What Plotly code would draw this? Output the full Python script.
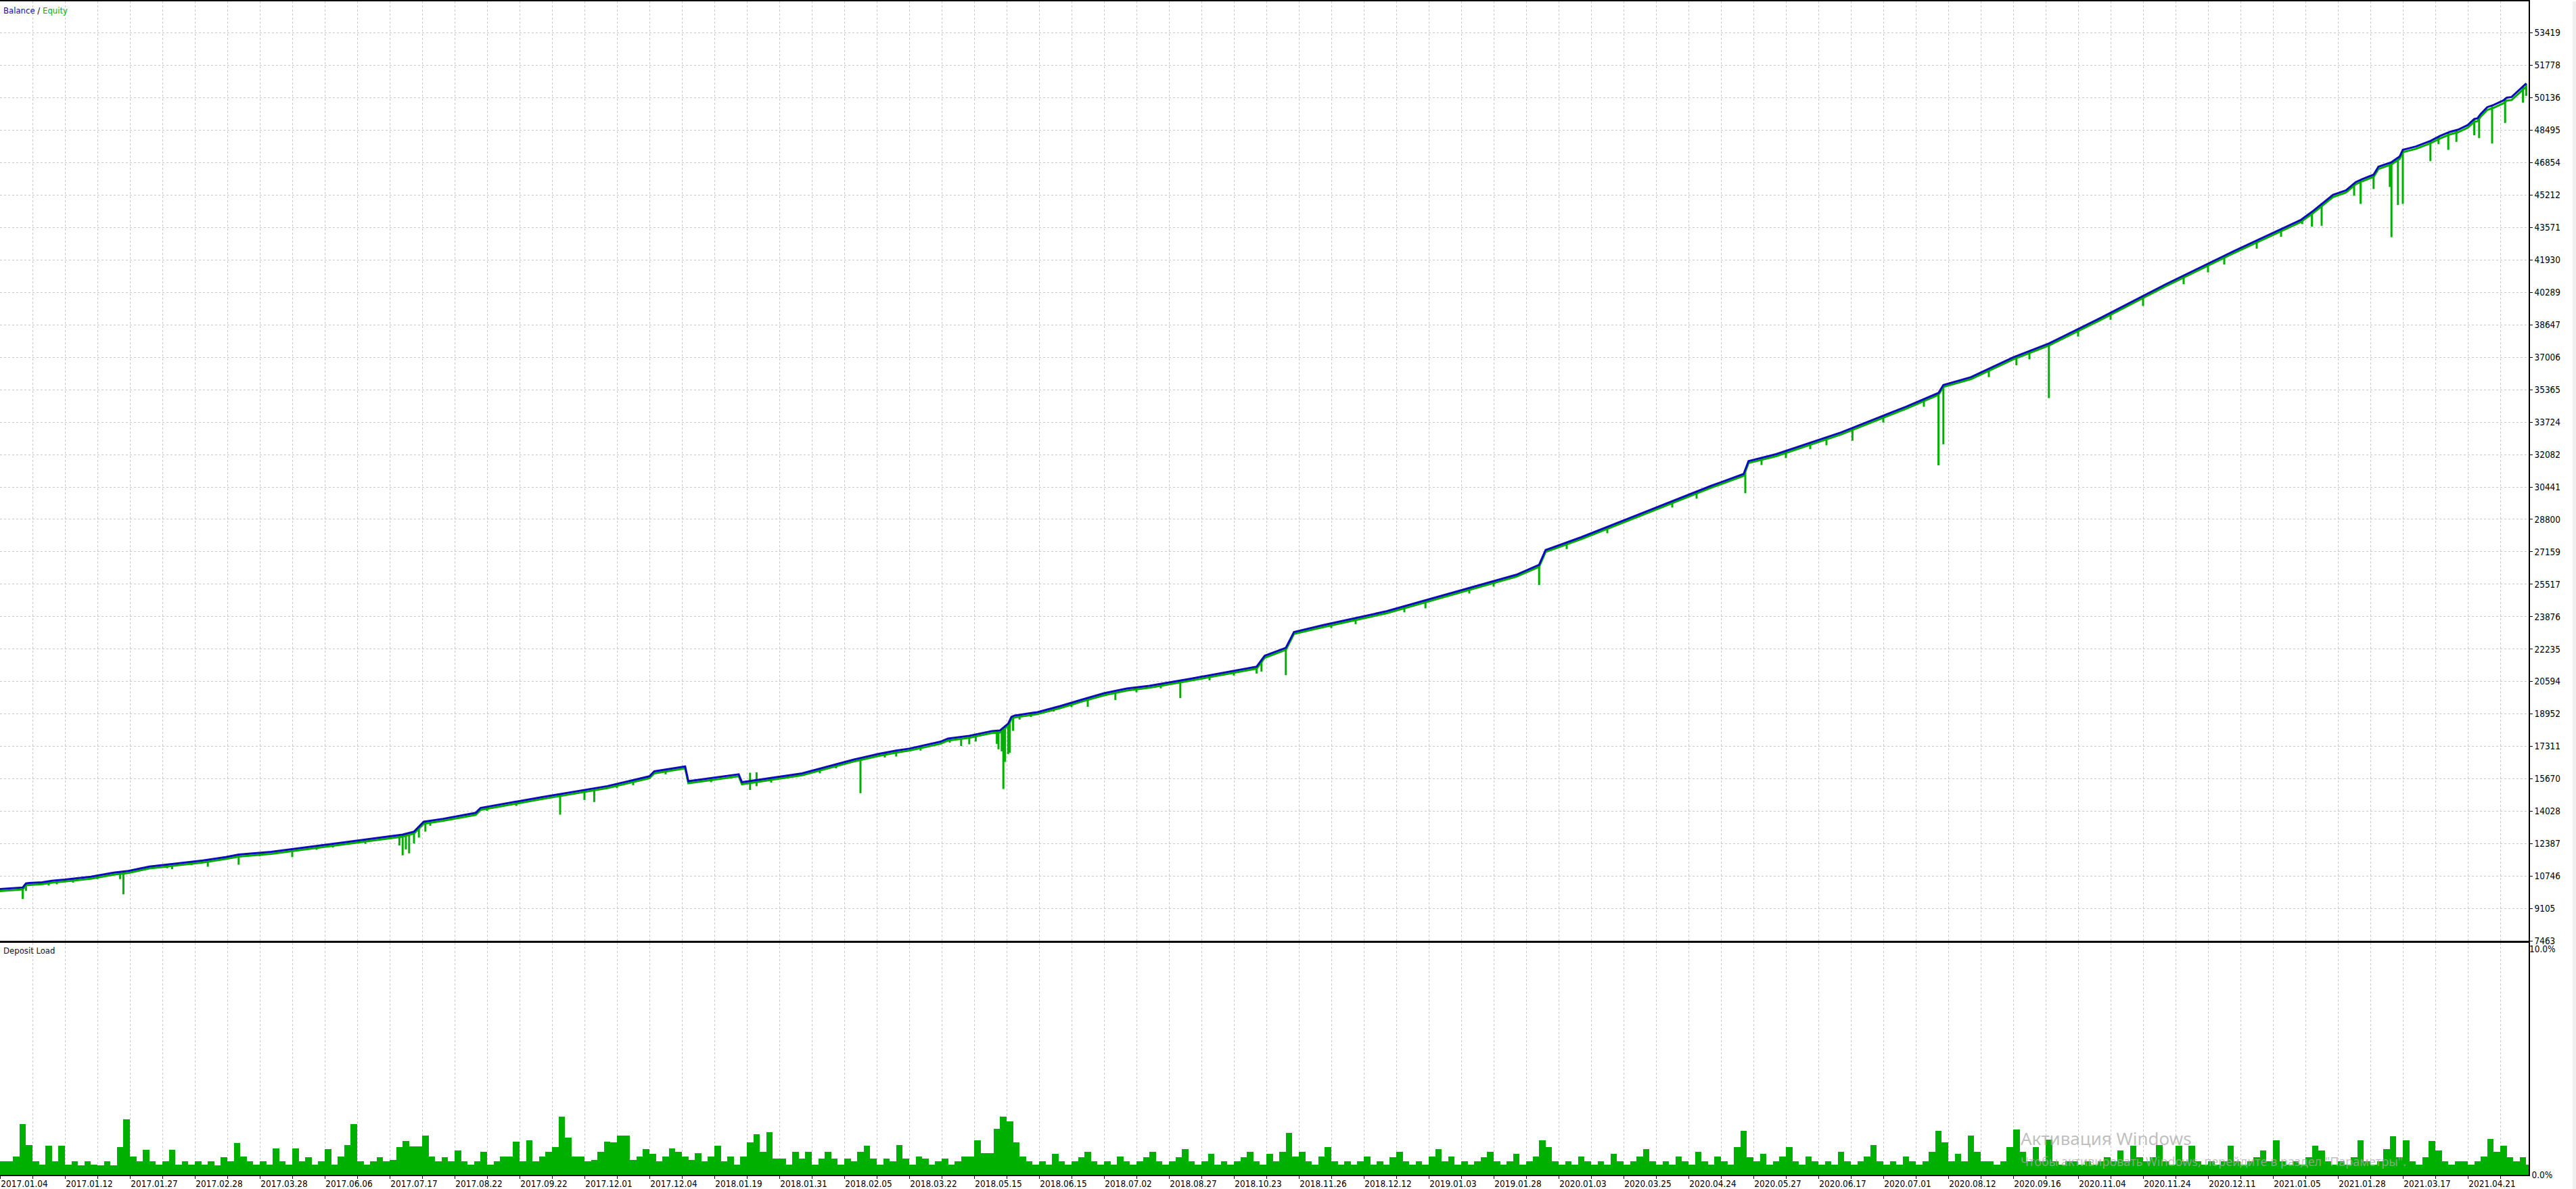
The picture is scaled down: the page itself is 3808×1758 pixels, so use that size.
import plotly.graph_objects as go

# ---- data (x axis = deal number) ----
date_labels = [
    "2017.01.04", "2017.01.12", "2017.01.27", "2017.02.28", "2017.03.28", "2017.06.06",
    "2017.07.17", "2017.08.22", "2017.09.22", "2017.12.01", "2017.12.04", "2018.01.19",
    "2018.01.31", "2018.02.05", "2018.03.22", "2018.05.15", "2018.06.15", "2018.07.02",
    "2018.08.27", "2018.10.23", "2018.11.26", "2018.12.12", "2019.01.03", "2019.01.28",
    "2020.01.03", "2020.03.25", "2020.04.24", "2020.05.27", "2020.06.17", "2020.07.01",
    "2020.08.12", "2020.09.16", "2020.11.04", "2020.11.24", "2020.12.11", "2021.01.05",
    "2021.01.28", "2021.03.17", "2021.04.21",
]

y_labels = [53419, 51778, 50136, 48495, 46854, 45212, 43571, 41930, 40289, 38647,
            37006, 35365, 33724, 32082, 30441, 28800, 27159, 25517, 23876, 22235,
            20594, 18952, 17311, 15670, 14028, 12387, 10746, 9105, 7463]

bal_deal = [0, 14, 16, 18, 26, 32, 40, 56, 70, 76, 79, 92, 105, 125, 139, 147, 167,
            215, 248, 255, 261, 273, 293, 296, 334, 374, 400, 403, 422, 424, 455, 457,
            494, 526, 541, 552, 560, 579, 584, 597, 611, 616, 618, 621, 623, 625, 639,
            653, 667, 680, 694, 708, 734, 774, 779, 792, 797, 815, 854, 895, 934, 948,
            952, 974, 1014, 1054, 1074, 1077, 1094, 1134, 1174, 1194, 1197, 1214, 1240,
            1262, 1294, 1334, 1374, 1417, 1425, 1432, 1437, 1445, 1451, 1455, 1462, 1465,
            1473, 1478, 1480, 1488, 1497, 1503, 1509, 1514, 1520, 1524, 1526, 1528, 1532,
            1536, 1542, 1544, 1547, 1556]
bal_value = [10096, 10175, 10380, 10404, 10438, 10517, 10574, 10721, 10926, 10974, 11008,
             11234, 11350, 11543, 11714, 11840, 11976, 12500, 12850, 13000, 13500, 13650,
             13950, 14200, 14750, 15300, 15800, 16050, 16300, 15550, 15900, 15500, 15950,
             16650, 16928, 17100, 17200, 17544, 17713, 17850, 18090, 18124, 18260, 18465,
             18807, 18875, 19045, 19353, 19695, 20002, 20241, 20378, 20750, 21350, 21900,
             22300, 23100, 23450, 24150, 25100, 26000, 26500, 27250, 27900, 29200, 30500,
             31100, 31750, 32100, 33200, 34500, 35200, 35600, 36000, 37000, 37700, 39000,
             40700, 42300, 43947, 44425, 44880, 45220, 45450, 45870, 46020, 46245, 46645,
             46875, 47157, 47500, 47670, 47954, 48206, 48410, 48520, 48753, 49060, 49096,
             49320, 49660, 49774, 50003, 50140, 50174, 50857]

# equity sits just under the balance between the drawdowns (same deals as bal_deal)
eq_value = [9995, 10075, 10280, 10300, 10340, 10415, 10475, 10620, 10825, 10870, 10905,
            11135, 11250, 11440, 11615, 11740, 11875, 12400, 12750, 12900, 13400, 13550,
            13850, 14100, 14650, 15200, 15700, 15950, 16200, 15450, 15800, 15400, 15850,
            16550, 16830, 17000, 17100, 17440, 17610, 17750, 17990, 18020, 18160, 18365,
            18705, 18775, 18945, 19250, 19595, 19900, 20140, 20280, 20650, 21250, 21800,
            22200, 23000, 23350, 24050, 25000, 25900, 26400, 27150, 27800, 29100, 30400,
            31000, 31650, 32000, 33100, 34400, 35100, 35500, 35900, 36900, 37600, 38900,
            40600, 42200, 43840, 44320, 44770, 45110, 45340, 45760, 45910, 46135, 46530,
            46760, 47040, 47380, 47550, 47830, 48080, 48280, 48390, 48620, 48920, 48950,
            49180, 49520, 49630, 49860, 49990, 50020, 50700]

# equity drawdowns: deal, equity at the start of the dip, lowest equity
dip_deal = [14, 16, 30, 35, 74, 76, 103, 106, 128, 147, 180, 246, 248, 250, 252, 255,
            258, 262, 265, 345, 360, 366, 462, 466, 530, 552, 567, 592, 597, 601, 614,
            615, 617, 618, 619, 621, 622, 624, 628, 641, 649, 670, 687, 727, 774, 777,
            792, 878, 948, 1075, 1100, 1141, 1194, 1197, 1242, 1262, 1320, 1370, 1418,
            1424, 1430, 1450, 1454, 1462, 1472, 1473, 1477, 1480, 1497, 1502, 1508, 1513,
            1524, 1527, 1535, 1543, 1554, 1556]
dip_top = [10175, 10380, 10500, 10540, 10960, 10974, 11340, 11355, 11570, 11840, 12120,
           12830, 12850, 12900, 12940, 13000, 13250, 13510, 13560, 14900, 15100, 15200,
           15980, 16000, 16720, 17100, 17320, 17800, 17850, 17900, 18110, 18120, 18200,
           18260, 18330, 18465, 18640, 18840, 18900, 19090, 19260, 19760, 20120, 20650,
           21350, 21700, 22300, 24700, 26500, 31300, 32250, 33450, 35200, 35600, 37050,
           37700, 40100, 42150, 44000, 44380, 44800, 45800, 45950, 46245, 46850, 46875,
           47000, 47500, 47954, 48150, 48400, 48520, 49060, 49150, 49700, 50100, 50700,
           50857]
dip_low = [9586, 10000, 10270, 10330, 10600, 9832, 11150, 11100, 11226, 11326, 11710,
           12300, 11800, 12100, 11900, 12400, 12700, 13000, 13300, 13860, 14600, 14500,
           15110, 15300, 14945, 16802, 17100, 17328, 17420, 17557, 17441, 17168, 17065,
           15160, 16526, 16928, 16994, 18100, 18670, 18943, 19080, 19320, 19660, 19756,
           21000, 21100, 20918, 24300, 25480, 30126, 31900, 32780, 31537, 32600, 36600,
           34938, 39600, 41700, 43742, 43610, 43660, 45176, 44767, 45518, 45620, 43082,
           44710, 44767, 46930, 47783, 47500, 47900, 48240, 48090, 47817, 48866, 49890,
           50232]

# shallow floating losses along the curve
small_dip_deal = [45, 60, 118, 160, 195, 205, 225, 300, 318, 380, 390, 410, 438, 475, 505,
                  515, 545, 585, 635, 660, 700, 715, 745, 760, 820, 835, 865, 905, 920, 965,
                  990, 1030, 1045, 1085, 1115, 1125, 1160, 1185, 1225, 1250, 1280, 1300,
                  1345, 1360, 1390, 1405]
small_dip_top = [10600, 10760, 11470, 11930, 12280, 12390, 12600, 14280, 14520, 15420,
                 15600, 16130, 15700, 15720, 16190, 16410, 17000, 17720, 19000, 19520,
                 20300, 20480, 20900, 21150, 23550, 23800, 24400, 25350, 25700, 27600,
                 28400, 29700, 30200, 31900, 32700, 32950, 34050, 34900, 36400, 37300,
                 38450, 39250, 41140, 41740, 42900, 43500]
small_dip_low = [10420, 10600, 11300, 11750, 12080, 12200, 12380, 14050, 14300, 15200,
                 15350, 15900, 15500, 15480, 15950, 16200, 16750, 17500, 18800, 19300,
                 20050, 20250, 20650, 20900, 23300, 23500, 24100, 25050, 25400, 27300,
                 28100, 29400, 29850, 31550, 32350, 32550, 33700, 34500, 36000, 36900,
                 38050, 38900, 40700, 41300, 42500, 43100]

# deposit load in % (tallest bar in each block of 4 deals)
load_pct = [
    0.6, 0.6, 0.8, 2.2, 1.3, 0.6, 0.45, 1.25, 0.6, 1.25, 0.45, 0.6, 0.4, 0.6, 0.45, 0.4, 0.6, 0.4, 1.2, 2.4,
    0.8, 0.6, 1.07, 0.6, 0.45, 0.6, 1.08, 0.45, 0.6, 0.45, 0.6, 0.45, 0.6, 0.4, 0.75, 0.6, 1.37, 0.8, 0.6, 0.45,
    0.6, 0.45, 1.13, 0.6, 0.45, 1.13, 0.6, 0.75, 0.45, 0.6, 1.1, 0.45, 0.8, 1.3, 2.18, 0.6, 0.45, 0.6, 0.75, 0.6,
    0.65, 1.2, 1.45, 1.22, 1.22, 1.7, 0.8, 0.6, 0.75, 0.6, 1.05, 0.6, 0.45, 0.6, 1.0, 0.45, 0.6, 0.8, 0.8, 1.42,
    0.6, 1.5, 0.6, 0.8, 1.0, 1.2, 2.5, 1.6, 0.8, 0.8, 0.6, 0.65, 1.0, 1.42, 1.4, 1.7, 1.7, 0.65, 0.8, 1.1,
    0.9, 0.6, 0.8, 1.15, 1.0, 0.8, 0.65, 0.95, 0.6, 0.8, 1.25, 0.6, 0.8, 0.45, 0.8, 1.4, 1.75, 1.0, 1.85, 0.7,
    0.7, 0.45, 1.0, 0.7, 1.0, 0.45, 0.7, 1.0, 0.7, 0.45, 0.7, 0.6, 1.0, 1.25, 0.7, 0.45, 0.7, 0.6, 1.3, 0.7,
    0.45, 0.8, 0.7, 0.45, 0.6, 0.7, 0.45, 0.6, 0.8, 0.8, 1.5, 0.95, 0.95, 2.0, 2.5, 2.3, 1.4, 0.8, 0.6, 0.45,
    0.6, 0.45, 0.9, 0.6, 0.45, 0.6, 0.75, 1.0, 0.6, 0.45, 0.6, 0.45, 0.8, 0.6, 0.45, 0.6, 0.75, 1.0, 0.6, 0.45,
    0.6, 0.75, 1.1, 0.6, 0.45, 0.6, 0.9, 0.45, 0.6, 0.45, 0.6, 0.75, 1.0, 0.6, 0.45, 0.9, 0.6, 1.0, 1.8, 0.8,
    1.0, 0.6, 0.45, 0.8, 1.2, 0.6, 0.45, 0.6, 0.45, 0.6, 0.8, 0.45, 0.6, 0.45, 0.75, 1.0, 0.6, 0.45, 0.6, 0.45,
    0.8, 1.1, 0.6, 0.8, 0.45, 0.6, 0.45, 0.6, 0.75, 1.0, 0.6, 0.45, 0.6, 0.9, 0.45, 0.6, 0.8, 1.5, 1.2, 0.6,
    0.45, 0.6, 0.45, 0.8, 0.6, 0.45, 0.6, 0.45, 0.9, 0.6, 0.45, 0.6, 0.8, 1.1, 0.6, 0.45, 0.6, 0.45, 0.8, 0.6,
    0.45, 1.0, 0.6, 0.45, 0.8, 0.6, 0.45, 1.2, 1.9, 0.75, 0.6, 0.9, 0.45, 0.6, 0.8, 1.2, 0.6, 0.45, 0.8, 0.6,
    0.45, 0.6, 0.45, 1.0, 0.6, 0.45, 0.6, 0.8, 1.3, 0.6, 0.45, 0.6, 0.45, 0.8, 0.6, 0.45, 0.6, 1.0, 1.9, 1.4,
    0.6, 0.9, 0.6, 1.7, 1.0, 0.6, 0.6, 0.45, 0.6, 1.2, 1.97, 1.0, 0.6, 1.2, 0.6, 1.53, 0.6, 0.45, 0.6, 0.6,
    0.45, 0.6, 0.45, 0.6, 0.75, 0.6, 1.05, 0.6, 1.25, 0.75, 0.6, 0.75, 1.3, 0.6, 0.45, 1.25, 0.6, 1.25, 0.6, 0.45,
    0.6, 0.45, 0.6, 1.25, 0.6, 0.45, 0.6, 0.75, 1.05, 0.6, 1.5, 0.6, 0.45, 0.6, 0.45, 0.75, 1.25, 1.05, 0.6, 0.45,
    0.6, 0.45, 0.75, 1.5, 0.6, 0.45, 0.6, 1.1, 1.66, 0.75, 1.5, 0.6, 0.45, 0.75, 1.47, 1.05, 0.6, 0.45, 0.6, 0.6,
    0.45, 0.6, 0.8, 1.54, 1.0, 1.25, 0.76, 0.6, 0.75, 0.45,
]
LOAD_BLOCK = 4
TOTAL_DEALS = 1557.5
GRID_STEP = 20

BLUE = "#0c0cb8"
GREEN = "#00b000"
GRID = "#c8c8c8"
FONT = "DejaVu Sans Condensed, Noto Sans, sans-serif"

grid_deals = list(range(0, 1541, GRID_STEP))
grid_text = [date_labels[i // 2] if i % 2 == 0 else "" for i in range(len(grid_deals))]

fig = go.Figure()

# equity: running line just under balance, plus the drawdown spikes
fig.add_trace(go.Scatter(x=bal_deal, y=eq_value, mode="lines", name="Equity",
                         line=dict(color=GREEN, width=3), hoverinfo="skip"))
eq_x, eq_y = [], []
for d, top, low in zip(dip_deal + small_dip_deal, dip_top + small_dip_top,
                       dip_low + small_dip_low):
    eq_x += [d, d, None]
    eq_y += [top, low, None]
fig.add_trace(go.Scatter(x=eq_x, y=eq_y, mode="lines", showlegend=False,
                         line=dict(color=GREEN, width=3), hoverinfo="skip"))

fig.add_trace(go.Scatter(x=bal_deal, y=bal_value, mode="lines", name="Balance",
                         line=dict(color=BLUE, width=3)))

fig.add_trace(go.Bar(
    x=[i * LOAD_BLOCK for i in range(len(load_pct))], y=load_pct,
    width=LOAD_BLOCK, offset=0, name="Deposit Load",
    marker=dict(color=GREEN, line=dict(width=0)),
    xaxis="x2", yaxis="y2",
))
# carrier for the upper percent label of the load pane
fig.add_trace(go.Scatter(x=[0], y=[0], mode="markers", opacity=0, showlegend=False,
                         hoverinfo="skip", xaxis="x2", yaxis="y3"))

grid_common = dict(showgrid=True, gridcolor=GRID, griddash="3px,3px", gridwidth=1, zeroline=False)

fig.update_layout(
    width=3808, height=1758,
    margin=dict(l=0, r=70, t=0, b=21),
    paper_bgcolor="white", plot_bgcolor="white",
    showlegend=False, bargap=0,
    font=dict(family=FONT, size=13.5, color="black"),
    xaxis=dict(anchor="y", range=[0, TOTAL_DEALS], tickvals=grid_deals, showticklabels=False,
               ticks="", showline=True, mirror=True, linecolor="black", linewidth=1.5,
               **grid_common),
    yaxis=dict(domain=[0.1992, 1], side="right", range=[7463, 55014],
               tickvals=y_labels, ticktext=[str(v) for v in y_labels],
               ticks="outside", ticklen=4, tickcolor="black",
               showline=True, linecolor="black", linewidth=1.5, **grid_common),
    xaxis2=dict(anchor="y2", matches="x", tickvals=grid_deals, ticktext=grid_text,
                ticks="outside", ticklen=4, tickcolor="black",
                ticklabelposition="outside right",
                showline=True, mirror=True, linecolor="black", linewidth=1.5,
                **grid_common),
    yaxis2=dict(domain=[0, 0.1978], anchor="x2", side="right", range=[0, 10],
                tickvals=[0], ticktext=["0.0%"], ticks="", showgrid=False, zeroline=False,
                showline=True, linecolor="black", linewidth=1.5),
    yaxis3=dict(overlaying="y2", anchor="x2", side="right", range=[0, 10],
                tickvals=[10], ticktext=["10.0%"], ticks="", ticklabelposition="outside bottom",
                showgrid=False, zeroline=False, showline=False),
)

fig.add_annotation(
    xref="paper", yref="paper", x=0.0008, y=0.9925, xanchor="left", yanchor="middle",
    text=f"<span style='color:{BLUE}'>Balance</span> / <span style='color:{GREEN}'>Equity</span>",
    showarrow=False, font=dict(family=FONT, size=13, color="black"),
)
fig.add_annotation(
    xref="paper", yref="paper", x=0.0008, y=0.1911, xanchor="left", yanchor="middle",
    text="Deposit Load", showarrow=False, font=dict(family=FONT, size=13, color="#101030"),
)

# Windows activation watermark visible on the screenshot
fig.add_annotation(
    xref="paper", yref="paper", x=0.7985, y=0.0311, xanchor="left", yanchor="middle",
    text="Активация Windows", showarrow=False,
    font=dict(family="Noto Sans, sans-serif", size=26, color="rgba(170,170,170,0.75)"),
)
fig.add_annotation(
    xref="paper", yref="paper", x=0.7985, y=0.0115, xanchor="left", yanchor="middle",
    text="Чтобы активировать Windows, перейдите в раздел \"Параметры\".", showarrow=False,
    font=dict(family="Noto Sans, sans-serif", size=18, color="rgba(170,170,170,0.75)"),
)

# thin window frame strip at the right edge
fig.add_shape(type="rect", xref="paper", yref="paper", x0=1.0174, x1=1.03, y0=-0.02, y1=1.0,
              line=dict(width=0), fillcolor="#f0f0f0", layer="below")

# drop the browser's default page margin so the figure sits at the window corner
fig.write_html("out.html", config={"displayModeBar": False},
               post_script="document.body.style.margin='0';"
                           "document.documentElement.style.overflow='hidden';")
